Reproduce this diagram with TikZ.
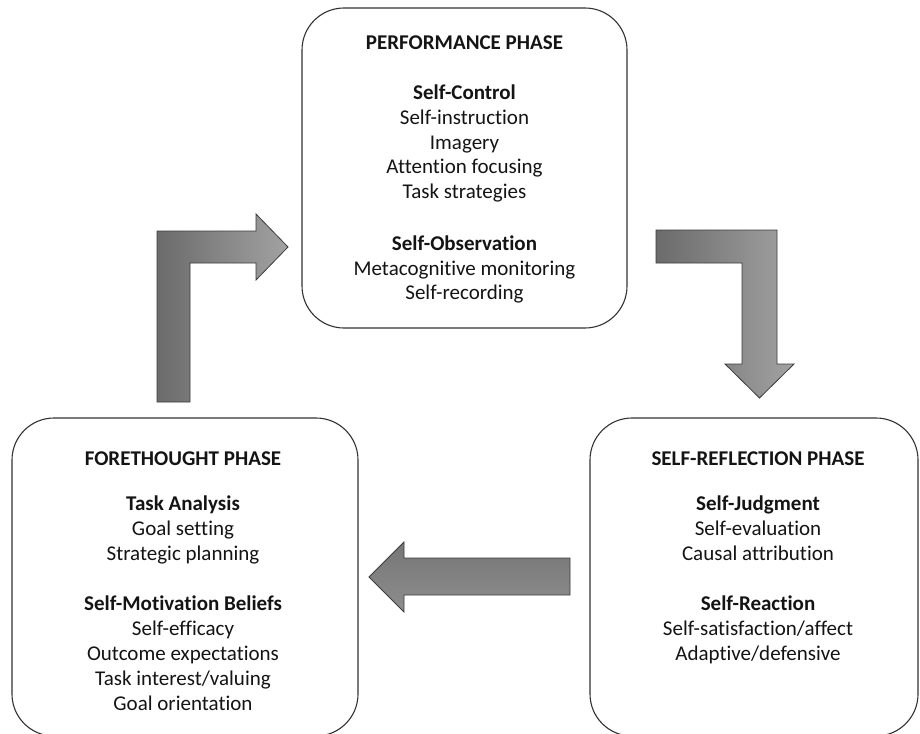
\documentclass[tikz,border=0pt]{standalone}
\usepackage{fontspec}
\setmainfont[Ligatures={NoCommon}]{Carlito}
\definecolor{ardark}{HTML}{6B6B6B}
\definecolor{arlight}{HTML}{A2A2A2}
\definecolor{armid}{HTML}{8E8E8E}
\definecolor{edge}{HTML}{3C3C3C}
\begin{document}
\begin{tikzpicture}[x=1pt,y=-1pt,
  phasebox/.style={draw=black!80, line width=1.1pt, rounded corners=42pt, fill=white, inner sep=0pt},
  txt/.style={anchor=base, inner sep=0pt, font=\fontsize{21}{25}\selectfont, text=black!92},
  hd/.style={txt, font=\fontsize{21}{25}\selectfont\bfseries},
  blockarrow/.style={draw=edge, line width=0.8pt, line join=miter}]
\useasboundingbox (0,0) rectangle (920,733);
\clip (0,0) rectangle (920,733);
\fill[white] (0,0) rectangle (920,733);

% phase boxes
\node[phasebox, minimum width=325pt, minimum height=320pt] (perf) at (464.5,168) {};
\node[phasebox, minimum width=346pt, minimum height=318pt] (fore) at (185,577) {};
\node[phasebox, minimum width=328pt, minimum height=318pt] (refl) at (754,577) {};

% block arrows
\draw[blockarrow, left color=ardark, right color=arlight]
  (157,402) -- (157,231) -- (256,231) -- (256,214) -- (288,247) -- (256,280)
  -- (256,263) -- (190,263) -- (190,402) -- cycle;
\draw[blockarrow, left color=ardark, right color=arlight]
  (656,230) -- (777,230) -- (777,364) -- (794,364) -- (759.5,398) -- (725,364)
  -- (742,364) -- (742,263) -- (656,263) -- cycle;
\draw[blockarrow, top color=ardark!70!armid, bottom color=armid]
  (570,558) -- (404,558) -- (404,542) -- (369,577) -- (404,612) -- (404,595)
  -- (570,595) -- cycle;

% performance phase text
\node[hd]  (p1) at (464.5,50)  {PERFORMANCE PHASE};
\node[hd]  (p2) at (464.5,100) {Self-Control};
\node[txt] (p3) at (464.5,124.5) {Self-instruction};
\node[txt] (p4) at (464.5,149) {Imagery};
\node[txt] (p5) at (464.5,173.5) {Attention focusing};
\node[txt] (p6) at (464.5,198) {Task strategies};
\node[hd]  (p7) at (464.5,250) {Self-Observation};
\node[txt] (p8) at (464.5,275) {Metacognitive monitoring};
\node[txt] (p9) at (464.5,299) {Self-recording};

% forethought phase text
\node[hd]  (f1) at (183,465) {FORETHOUGHT PHASE};
\node[hd]  (f2) at (183,510) {Task Analysis};
\node[txt] (f3) at (183,535) {Goal setting};
\node[txt] (f4) at (183,560) {Strategic planning};
\node[hd]  (f5) at (183,610) {Self-Motivation Beliefs};
\node[txt] (f6) at (183,635) {Self-efficacy};
\node[txt] (f7) at (183,660) {Outcome expectations};
\node[txt] (f8) at (183,685) {Task interest/valuing};
\node[txt] (f9) at (183,710) {Goal orientation};

% self-reflection phase text
\node[hd]  (r1) at (758,465) {SELF-REFLECTION PHASE};
\node[hd]  (r2) at (758,510) {Self-Judgment};
\node[txt] (r3) at (758,535) {Self-evaluation};
\node[txt] (r4) at (758,560) {Causal attribution};
\node[hd]  (r5) at (758,610) {Self-Reaction};
\node[txt] (r6) at (758,635) {Self-satisfaction/affect};
\node[txt] (r7) at (758,660) {Adaptive/defensive};
\end{tikzpicture}
\end{document}
